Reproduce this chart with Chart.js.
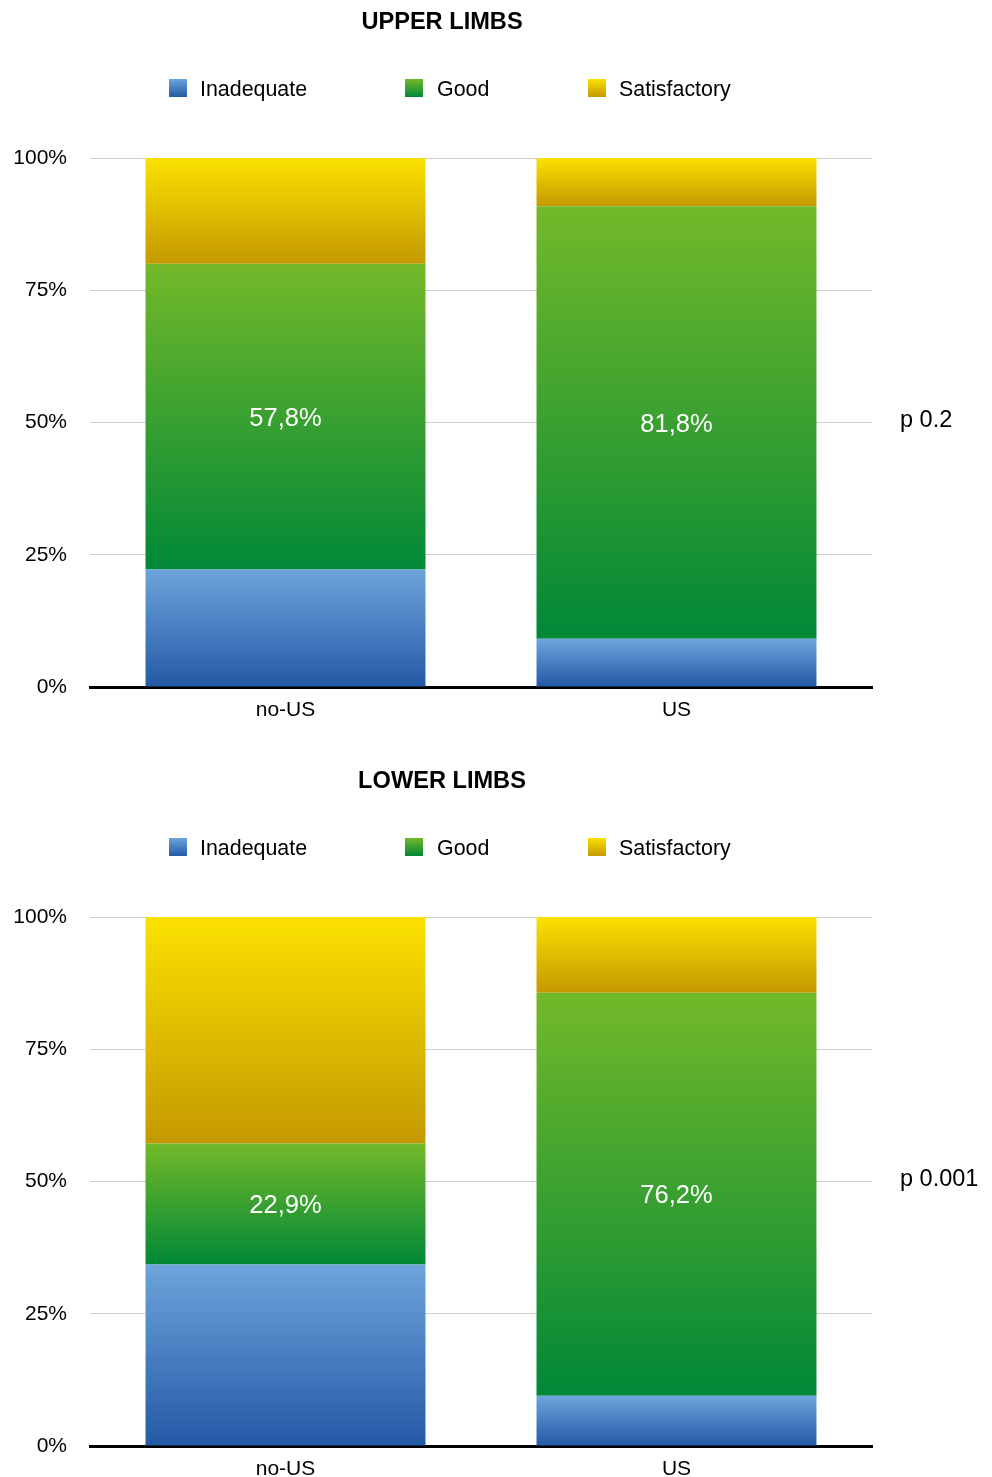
<!DOCTYPE html>
<html>
<head>
<meta charset="utf-8">
<script src="https://cdn.jsdelivr.net/npm/chart.js@4.4.0/dist/chart.umd.min.js"></script>
<style>
  body { margin: 0; width: 992px; height: 1477px; overflow: hidden; background: #fff; position: relative;
         font-family: "Liberation Sans", Arial, sans-serif; color: #000; }
  .panel { position: absolute; left: 0; width: 992px; height: 759px; }
  .panel canvas { position: absolute; left: 0; top: 0; }
  .title { position: absolute; left: 442px; top: 7px; transform: translateX(-50%); font-weight: bold;
           font-size: 23.6px; line-height: 28px; white-space: nowrap; }
  .box { position: absolute; top: 79px; width: 18px; height: 18px; }
  .lbl { position: absolute; top: 77px; font-size: 21.4px; line-height: 24px; white-space: nowrap; }
  .pval { position: absolute; left: 900px; top: 405px; font-size: 23.5px; line-height: 28px; white-space: nowrap; }
</style>
</head>
<body>
<div class="panel" id="upper" style="top:0"><canvas id="upperChart" width="992" height="759"></canvas></div>
<div class="panel" id="lower" style="top:759px"><canvas id="lowerChart" width="992" height="759"></canvas></div>

<script>
// Data //

const categories = ['no-US', 'US'];
const seriesNames = ['Inadequate', 'Good', 'Satisfactory'];

const upperInadequate = [22.2, 9.1];
const upperGood = [57.8, 81.8];
const upperSatisfactory = [20.0, 9.1];

const lowerInadequate = [34.3, 9.5];
const lowerGood = [22.9, 76.2];
const lowerSatisfactory = [42.8, 14.3];

const yTicks = [0, 25, 50, 75, 100];
const titles = ['UPPER LIMBS', 'LOWER LIMBS'];
const pValues = ['p 0.2', 'p 0.001'];

// gradient colours, top -> bottom
const colorStops = {
  Inadequate: ['#6ca4db', '#2459a6'],
  Good: ['#73b929', '#008837'],
  Satisfactory: ['#fbe100', '#c49900']
};

const FONT = '"Liberation Sans", Arial, sans-serif';

// each segment gets its own vertical gradient
function segmentFill(ctx) {
  const chart = ctx.chart;
  const stops = colorStops[ctx.dataset.label];
  if (!chart.chartArea || ctx.type !== 'data' || !chart.scales.y) return stops[1];
  let base = 0;
  for (let d = 0; d < ctx.datasetIndex; d++) {
    base += chart.data.datasets[d].data[ctx.dataIndex];
  }
  const top = base + ctx.dataset.data[ctx.dataIndex];
  const y0 = chart.scales.y.getPixelForValue(top);
  const y1 = chart.scales.y.getPixelForValue(base);
  const g = chart.ctx.createLinearGradient(0, y0, 0, y1);
  g.addColorStop(0, stops[0]);
  g.addColorStop(1, stops[1]);
  return g;
}

// white value label in the middle of the Good segment
const goodLabels = {
  id: 'goodLabels',
  afterDatasetsDraw(chart) {
    const meta = chart.getDatasetMeta(1);
    const c = chart.ctx;
    c.save();
    c.fillStyle = '#fff';
    c.font = '25.5px ' + FONT;
    c.textAlign = 'center';
    c.textBaseline = 'middle';
    meta.data.forEach((bar, i) => {
      const v = chart.data.datasets[1].data[i];
      c.fillText(v.toFixed(1).replace('.', ',') + '%', bar.x, (bar.y + bar.base) / 2 + 2);
    });
    c.restore();
  }
};

function addDecor(panelId, title, pValue) {
  const panel = document.getElementById(panelId);
  const t = document.createElement('div');
  t.className = 'title';
  t.textContent = title;
  panel.appendChild(t);

  const boxX = [169, 405, 588];
  const textX = [200, 437, 619];
  seriesNames.forEach((name, i) => {
    const b = document.createElement('span');
    b.className = 'box';
    b.style.left = boxX[i] + 'px';
    b.style.background = 'linear-gradient(' + colorStops[name][0] + ',' + colorStops[name][1] + ')';
    panel.appendChild(b);
    const l = document.createElement('span');
    l.className = 'lbl';
    l.style.left = textX[i] + 'px';
    l.textContent = name;
    panel.appendChild(l);
  });

  const p = document.createElement('div');
  p.className = 'pval';
  p.textContent = pValue;
  panel.appendChild(p);
}

function createChart(canvasId, inadequate, good, satisfactory) {
  const ctx = document.getElementById(canvasId).getContext('2d');
  const values = [inadequate, good, satisfactory];
  return new Chart(ctx, {
    type: 'bar',
    data: {
      labels: categories,
      datasets: seriesNames.map((name, i) => ({
        label: name,
        data: values[i],
        backgroundColor: segmentFill,
        borderWidth: 0,
        categoryPercentage: 1,
        barPercentage: 0.716
      }))
    },
    options: {
      responsive: false,
      animation: false,
      layout: { padding: { top: 158, right: 120, left: 0, bottom: 0 } },
      plugins: {
        legend: { display: false },
        title: { display: false },
        tooltip: { enabled: false }
      },
      scales: {
        x: {
          stacked: true,
          grid: { display: false, drawTicks: false },
          border: { color: '#000', width: 3 },
          ticks: { color: '#000', font: { size: 21, family: FONT }, padding: 11 },
          afterFit(s) { s.height = 72; }
        },
        y: {
          stacked: true,
          min: yTicks[0],
          max: yTicks[yTicks.length - 1],
          afterBuildTicks(s) { s.ticks = yTicks.map(v => ({ value: v })); },
          ticks: {
            color: '#000',
            font: { size: 21, family: FONT },
            padding: 23,
            callback: v => v + '%'
          },
          grid: { color: '#cccccc', drawTicks: false },
          border: { display: false },
          afterFit(s) { s.width = 90; }
        }
      }
    },
    plugins: [goodLabels]
  });
}

document.addEventListener('DOMContentLoaded', () => {
  addDecor('upper', titles[0], pValues[0]);
  addDecor('lower', titles[1], pValues[1]);
  createChart('upperChart', upperInadequate, upperGood, upperSatisfactory);
  createChart('lowerChart', lowerInadequate, lowerGood, lowerSatisfactory);
});
</script>
</body>
</html>
